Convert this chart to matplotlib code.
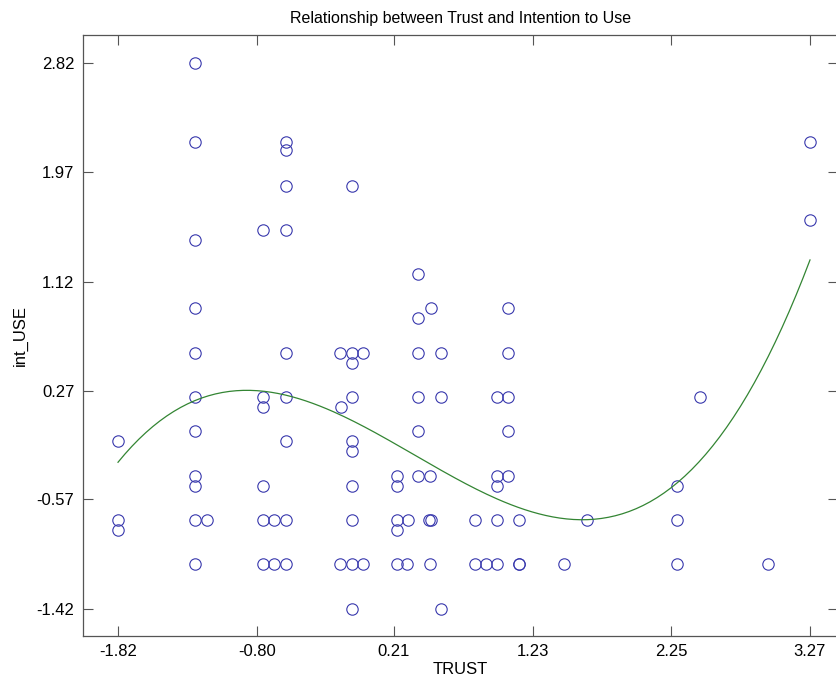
import numpy as np
import matplotlib
matplotlib.use("Agg")
from matplotlib import pyplot as plt

plt.rcParams['font.family'] = ['Liberation Sans', 'DejaVu Sans']

# TRUST (x) and int_USE (y) scores
trust = [
    -1.251, -1.251, -0.586, -0.586, -0.586, -0.098, -1.251, -0.755, -0.586,
    0.390, -1.251, 0.390, 0.481, 1.052, 3.272, 3.272,
    # row ~0.57
    -1.251, -0.586, -0.186, -0.098, -0.015, 0.390, 0.557, 1.052,
    -0.098,
    # row ~0.22
    -1.251, -0.755, -0.586, -0.098, 0.390, 0.557, 0.969, 1.052, 2.463,
    -0.755, -0.181,
    # row ~-0.04
    -1.251, 0.390, 1.052,
    -1.820, -0.586, -0.098,
    -0.098,
    # row ~-0.39
    -1.251, 0.231, 0.390, 0.478, 0.969, 1.052,
    -1.251, -0.755, -0.098, 0.231, 0.969, 2.296,
    # row ~-0.73
    -1.820, -1.251, -1.167, -0.755, -0.672, -0.586, -0.098, 0.231, 0.316,
    0.466, 0.481, 0.807, 0.969, 1.131, 1.633, 2.296,
    -1.820, 0.231,
    # row ~-1.08
    -1.251, -0.755, -0.672, -0.586, -0.186, -0.098, -0.015, 0.231, 0.308,
    0.478, 0.807, 0.888, 0.969, 1.131, 1.131, 1.462, 2.296, 2.961,
    # row -1.42
    -0.098, 0.557,
]
int_use = [
    2.820, 2.207, 2.207, 2.140, 1.865, 1.865, 1.445, 1.521, 1.521,
    1.177, 0.913, 0.835, 0.913, 0.913, 2.207, 1.596,
    0.568, 0.568, 0.568, 0.568, 0.568, 0.568, 0.568, 0.568,
    0.490,
    0.224, 0.224, 0.224, 0.224, 0.224, 0.224, 0.224, 0.224, 0.224,
    0.149, 0.149,
    -0.042, -0.042, -0.042,
    -0.120, -0.120, -0.120,
    -0.198,
    -0.387, -0.387, -0.387, -0.387, -0.387, -0.387,
    -0.465, -0.465, -0.465, -0.465, -0.465, -0.465,
    -0.731, -0.731, -0.731, -0.731, -0.731, -0.731, -0.731, -0.731, -0.731,
    -0.731, -0.731, -0.731, -0.731, -0.731, -0.731, -0.731,
    -0.809, -0.809,
    -1.075, -1.075, -1.075, -1.075, -1.075, -1.075, -1.075, -1.075, -1.075,
    -1.075, -1.075, -1.075, -1.075, -1.075, -1.075, -1.075, -1.075, -1.075,
    -1.420, -1.420,
]

xticks = [-1.82, -0.80, 0.21, 1.23, 2.25, 3.27]
yticks = [-1.42, -0.57, 0.27, 1.12, 1.97, 2.82]

x = np.array(trust)
y = np.array(int_use)

# cubic fit of int_USE on TRUST
coef = np.polyfit(x, y, 3)
xs = np.linspace(x.min(), x.max(), 200)
ys = np.polyval(coef, xs)

fig = plt.figure(figsize=(8.36, 6.85), dpi=100)
ax = fig.add_axes([0.0989, 0.0715, 0.9035, 0.8774])

ax.plot(x, y, 'o', mfc='none', mec=(0.22, 0.22, 0.68), ms=8.2, mew=0.8)
ax.plot(xs, ys, color=(0.2, 0.52, 0.2), lw=0.9)

ax.set_xlim(-2.08, 3.478)
ax.set_ylim(-1.632, 3.035)
ax.set_xticks(xticks)
ax.set_yticks(yticks)
ax.set_xticklabels(["%.2f" % v for v in xticks])
ax.set_yticklabels(["%.2f" % v for v in yticks])
ax.tick_params(direction='in', length=7, width=0.8, color='#555555',
               labelsize=12, top=True, right=True, pad=6)
for s in ax.spines.values():
    s.set_color('#555555')
    s.set_linewidth(0.9)

ax.set_title("Relationship between Trust and Intention to Use", fontsize=11.5, pad=9)
ax.set_xlabel("TRUST", fontsize=12, labelpad=2)
ax.set_ylabel("int_USE", fontsize=12, labelpad=6)

plt.savefig("out.png", dpi=100)
